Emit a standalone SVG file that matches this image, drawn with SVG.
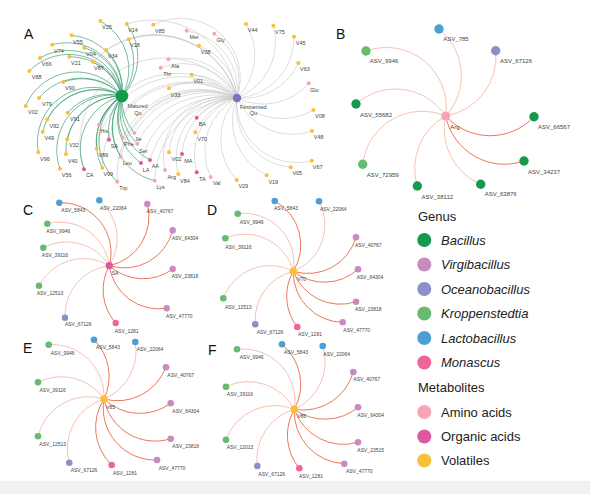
<svg xmlns="http://www.w3.org/2000/svg" width="590" height="494" viewBox="0 0 590 494">
<style>
text{font-family:"Liberation Sans",Arial,sans-serif;fill:#333}
.pl{font-size:14px;fill:#111}
.la{font-size:5.5px;text-anchor:middle;fill:#444}
.lb{font-size:6px;text-anchor:middle;fill:#444}
.lc{font-size:5px;text-anchor:middle;fill:#444}
.lg{font-size:13px;fill:#222}
.lgi{font-size:13px;fill:#222;font-style:italic}
.eg{fill:none;stroke:#3f9f73;stroke-width:0.7}
.ey{fill:none;stroke:#c6c6c6;stroke-width:0.6}
.er{fill:none;stroke:#f4a690;stroke-width:0.7}
.ed{fill:none;stroke:#ea7857;stroke-width:1}
.o{fill:#fbbf38}.p{fill:#f7a4b7}.m{fill:#dd5aa0}
.bac{fill:#17984f}.vir{fill:#c98ac0}.oce{fill:#8c90c8}.kro{fill:#67bb6e}.lac{fill:#4b9fd5}.mon{fill:#f0649a}
</style>
<rect x="0" y="0" width="590" height="494" fill="#ffffff"/>
<rect x="0" y="481" width="590" height="13" fill="#f1f1f1"/>

<g id="connectors">
<g class="ey">
<path d="M237 98A60 60 0 0 0 153.3 24.7"/>
<path d="M237 98A60 60 0 0 0 186.7 30.7"/>
<path d="M237 98A60 60 0 0 0 214.3 33.7"/>
<path d="M237 98A60 60 0 0 0 246 24"/>
<path d="M237 98A60 60 0 0 0 273.3 25.7"/>
<path d="M237 98A60 60 0 0 0 294 36.7"/>
<path d="M237 98A60 60 0 0 0 199 45.7"/>
<path d="M237 98A60 60 0 0 0 168.3 59.3"/>
<path d="M237 98A60 60 0 0 0 160.7 67.7"/>
<path d="M237 98A60 60 0 0 0 298.3 63"/>
<path d="M237 98A60 60 0 0 0 191.7 74.7"/>
<path d="M237 98A60 60 0 0 0 308.7 83.3"/>
<path d="M237 98A60 60 0 0 0 169 88.3"/>
<path d="M237 98A60 60 0 0 0 313.3 110"/>
<path d="M237 98A60 60 0 0 0 196.7 117.7"/>
<path d="M237 98A60 60 0 0 0 312 131"/>
<path d="M237 98A60 60 0 0 0 195.3 132.3"/>
<path d="M237 98A60 60 0 0 0 169 152.3"/>
<path d="M237 98A60 60 0 0 0 182 154"/>
<path d="M237 98A60 60 0 0 0 311.7 160.7"/>
<path d="M237 98A60 60 0 0 0 290.7 167.3"/>
<path d="M237 98A60 60 0 0 0 165 170"/>
<path d="M237 98A60 60 0 0 0 178.3 174"/>
<path d="M237 98A60 60 0 0 0 196.7 172.3"/>
<path d="M237 98A60 60 0 0 0 210.7 177"/>
<path d="M237 98A60 60 0 0 0 266.7 175.3"/>
<path d="M237 98A60 60 0 0 0 236.7 180"/>
<path d="M237 98A85 85 0 0 0 126.7 24"/>
<path d="M237 98A85 85 0 0 0 128.7 39.3"/>
<path d="M237 98A85 85 0 0 0 106 50"/>
<path d="M237 98A85 85 0 0 0 93 62"/>
<path d="M237 98A85 85 0 0 0 99 124.7"/>
<path d="M237 98A85 85 0 0 0 109 139.7"/>
<path d="M237 98A85 85 0 0 0 134.3 133"/>
<path d="M237 98A85 85 0 0 0 122.7 137.7"/>
<path d="M237 98A85 85 0 0 0 137.3 143.7"/>
<path d="M237 98A85 85 0 0 0 120.7 156.7"/>
<path d="M237 98A85 85 0 0 0 150 160"/>
<path d="M237 98A85 85 0 0 0 141 163"/>
<path d="M237 98A85 85 0 0 0 117.3 181.7"/>
<path d="M237 98A85 85 0 0 0 154.7 180.7"/>
<path d="M237 98A85 85 0 0 0 96.7 148.7"/>
<path d="M237 98A85 85 0 0 0 102.3 168"/>
<path d="M237 98A85 85 0 0 0 84 169.3"/>
</g>
<g class="eg">
<path d="M122 96A55 55 0 0 0 100.3 21"/>
<path d="M122 96A55 55 0 0 0 126.7 24"/>
<path d="M122 96A55 55 0 0 0 71.7 35.3"/>
<path d="M122 96A55 55 0 0 0 128.7 39.3"/>
<path d="M122 96A55 55 0 0 0 52.3 44.7"/>
<path d="M122 96A55 55 0 0 0 84.3 47.7"/>
<path d="M122 96A55 55 0 0 0 106 50"/>
<path d="M122 96A55 55 0 0 0 69.3 56.7"/>
<path d="M122 96A55 55 0 0 0 40 58"/>
<path d="M122 96A55 55 0 0 0 93 62"/>
<path d="M122 96A55 55 0 0 0 29.3 71"/>
<path d="M122 96A55 55 0 0 0 63.3 82"/>
<path d="M122 96A55 55 0 0 0 39 98"/>
<path d="M122 96A55 55 0 0 0 25.7 106"/>
<path d="M122 96A55 55 0 0 0 67.7 112.7"/>
<path d="M122 96A55 55 0 0 0 47.3 119.3"/>
<path d="M122 96A55 55 0 0 0 42.7 132"/>
<path d="M122 96A55 55 0 0 0 99 124.7"/>
<path d="M122 96A55 55 0 0 0 109 139.7"/>
<path d="M122 96A55 55 0 0 0 67.3 139.3"/>
<path d="M122 96A55 55 0 0 0 134.3 133"/>
<path d="M122 96A55 55 0 0 0 122.7 137.7"/>
<path d="M122 96A55 55 0 0 0 137.3 143.7"/>
<path d="M122 96A55 55 0 0 0 38.3 152.3"/>
<path d="M122 96A55 55 0 0 0 96.7 148.7"/>
<path d="M122 96A55 55 0 0 0 66 154"/>
<path d="M122 96A55 55 0 0 0 120.7 156.7"/>
<path d="M122 96A55 55 0 0 0 150 160"/>
<path d="M122 96A55 55 0 0 0 141 163"/>
<path d="M122 96A55 55 0 0 0 60 168.7"/>
<path d="M122 96A55 55 0 0 0 84 169.3"/>
<path d="M122 96A55 55 0 0 0 102.3 168"/>
<path d="M122 96A55 55 0 0 0 117.3 181.7"/>
<path d="M122 96A55 55 0 0 0 154.7 180.7"/>
</g>
<g class="er">
<path d="M445.7 116A60 60 0 0 0 439 29"/>
<path d="M445.7 116A60 60 0 0 0 495.7 50.7"/>
<path d="M445.7 116A60 60 0 0 0 366 51"/>
<path d="M445.7 116A60 60 0 0 0 356 104"/>
<path d="M445.7 116A60 60 0 0 0 362.7 164.3"/>
<path d="M445.7 116A60 60 0 0 0 417.3 186"/>
<path d="M445.7 116A60 60 0 0 0 480.7 184.3"/>
</g>
<g class="ed">
<path d="M445.7 116A60 60 0 0 0 534 116.7"/>
<path d="M445.7 116A60 60 0 0 0 524 161"/>
</g>
<g class="er">
<path d="M109.3 265.7A50 50 0 0 0 99.3 200.3"/>
<path d="M109.3 265.7A50 50 0 0 0 47.3 223.7"/>
<path d="M109.3 265.7A50 50 0 0 0 43.3 247.7"/>
<path d="M109.3 265.7A50 50 0 0 0 39 285.7"/>
<path d="M109.3 265.7A50 50 0 0 0 65 317.7"/>
</g>
<g class="ed">
<path d="M109.3 265.7A50 50 0 0 0 59.3 202.7"/>
<path d="M109.3 265.7A50 50 0 0 0 147.3 204"/>
<path d="M109.3 265.7A50 50 0 0 0 172.7 230.3"/>
<path d="M109.3 265.7A50 50 0 0 0 172.7 269"/>
<path d="M109.3 265.7A50 50 0 0 0 166.7 308.3"/>
<path d="M109.3 265.7A50 50 0 0 0 115.7 323"/>
</g>
<g class="er">
<path d="M293.3 271.3A50 50 0 0 0 319 201.3"/>
<path d="M293.3 271.3A50 50 0 0 0 237.7 213.7"/>
<path d="M293.3 271.3A50 50 0 0 0 225.3 238.3"/>
<path d="M293.3 271.3A50 50 0 0 0 223.3 298.3"/>
<path d="M293.3 271.3A50 50 0 0 0 255.3 324.3"/>
</g>
<g class="ed">
<path d="M293.3 271.3A50 50 0 0 0 274.7 201"/>
<path d="M293.3 271.3A50 50 0 0 0 356 237.3"/>
<path d="M293.3 271.3A50 50 0 0 0 358 269.3"/>
<path d="M293.3 271.3A50 50 0 0 0 356 301.7"/>
<path d="M293.3 271.3A50 50 0 0 0 342.7 322.3"/>
<path d="M293.3 271.3A50 50 0 0 0 297.3 327"/>
</g>
<g class="er">
<path d="M104 399A52 52 0 0 0 135.3 342"/>
<path d="M104 399A52 52 0 0 0 48.7 344.7"/>
<path d="M104 399A52 52 0 0 0 38 382.3"/>
<path d="M104 399A52 52 0 0 0 38 436.3"/>
<path d="M104 399A52 52 0 0 0 69.3 462.7"/>
</g>
<g class="ed">
<path d="M104 399A52 52 0 0 0 94 339.7"/>
<path d="M104 399A52 52 0 0 0 166 367.3"/>
<path d="M104 399A52 52 0 0 0 170.7 403.3"/>
<path d="M104 399A52 52 0 0 0 170.7 438.7"/>
<path d="M104 399A52 52 0 0 0 157 460"/>
<path d="M104 399A52 52 0 0 0 111.7 465"/>
</g>
<g class="er">
<path d="M294.3 409.3A52 52 0 0 0 322.7 346"/>
<path d="M294.3 409.3A52 52 0 0 0 237 349.3"/>
<path d="M294.3 409.3A52 52 0 0 0 226 386.7"/>
<path d="M294.3 409.3A52 52 0 0 0 226 439.7"/>
<path d="M294.3 409.3A52 52 0 0 0 257.3 466"/>
</g>
<g class="ed">
<path d="M294.3 409.3A52 52 0 0 0 282 344.3"/>
<path d="M294.3 409.3A52 52 0 0 0 353.3 372"/>
<path d="M294.3 409.3A52 52 0 0 0 358 407.3"/>
<path d="M294.3 409.3A52 52 0 0 0 358 442.3"/>
<path d="M294.3 409.3A52 52 0 0 0 344.3 463.7"/>
<path d="M294.3 409.3A52 52 0 0 0 299.3 468.3"/>
</g>
</g>

<text class="pl" x="24" y="38.5">A</text>
<text class="pl" x="336" y="38.5">B</text>
<text class="pl" x="23" y="214.5">C</text>
<text class="pl" x="207" y="215">D</text>
<text class="pl" x="23" y="352.5">E</text>
<text class="pl" x="208" y="355">F</text>

<g id="panelA">
<g id="a-hub1"><circle cx="122" cy="96" r="6.3" class="bac"/><text class="la" x="137.5" y="107.5">Matured</text><text class="la" x="138" y="114.5">Qu</text></g>
<g id="a-hub2"><circle cx="237" cy="98" r="4.2" fill="#7b72c0"/><text class="la" x="253.3" y="108.5">Fermented</text><text class="la" x="253.3" y="114.7">Qu</text></g>
<g id="a-V25"><circle cx="100.3" cy="21" r="2" class="o"/><text class="la" x="107" y="29">V25</text></g>
<g id="a-V14"><circle cx="126.7" cy="24" r="2" class="o"/><text class="la" x="133" y="32">V14</text></g>
<g id="a-V85"><circle cx="153.3" cy="24.7" r="2" class="o"/><text class="la" x="160" y="33">V85</text></g>
<g id="a-V55"><circle cx="71.7" cy="35.3" r="2" class="o"/><text class="la" x="78" y="44">V55</text></g>
<g id="a-V18"><circle cx="128.7" cy="39.3" r="2" class="o"/><text class="la" x="135" y="47">V18</text></g>
<g id="a-V74"><circle cx="52.3" cy="44.7" r="2" class="o"/><text class="la" x="59" y="53">V74</text></g>
<g id="a-V04"><circle cx="84.3" cy="47.7" r="2" class="o"/><text class="la" x="91" y="56">V04</text></g>
<g id="a-V34"><circle cx="106" cy="50" r="2" class="o"/><text class="la" x="112.7" y="58">V34</text></g>
<g id="a-V21"><circle cx="69.3" cy="56.7" r="2" class="o"/><text class="la" x="76" y="64.7">V21</text></g>
<g id="a-V66"><circle cx="40" cy="58" r="2" class="o"/><text class="la" x="46.7" y="66">V66</text></g>
<g id="a-V87"><circle cx="93" cy="62" r="2" class="o"/><text class="la" x="99" y="70">V87</text></g>
<g id="a-V88"><circle cx="29.3" cy="71" r="2" class="o"/><text class="la" x="36.7" y="79">V88</text></g>
<g id="a-V90"><circle cx="63.3" cy="82" r="2" class="o"/><text class="la" x="70" y="90">V90</text></g>
<g id="a-V79"><circle cx="39" cy="98" r="2" class="o"/><text class="la" x="47" y="106">V79</text></g>
<g id="a-V02"><circle cx="25.7" cy="106" r="2" class="o"/><text class="la" x="33" y="114">V02</text></g>
<g id="a-V91"><circle cx="67.7" cy="112.7" r="2" class="o"/><text class="la" x="75" y="121">V91</text></g>
<g id="a-V92"><circle cx="47.3" cy="119.3" r="2" class="o"/><text class="la" x="54.3" y="127.7">V92</text></g>
<g id="a-V49"><circle cx="42.7" cy="132" r="2" class="o"/><text class="la" x="49.3" y="140.3">V49</text></g>
<g id="a-His"><circle cx="99" cy="124.7" r="2" class="p"/><text class="la" x="104.3" y="133">His</text></g>
<g id="a-SA"><circle cx="109" cy="139.7" r="2" class="m"/><text class="la" x="114.3" y="147.7">SA</text></g>
<g id="a-V32"><circle cx="67.3" cy="139.3" r="2" class="o"/><text class="la" x="74" y="147.3">V32</text></g>
<g id="a-Ile"><circle cx="134.3" cy="133" r="2" class="p"/><text class="la" x="138.7" y="141.3">Ile</text></g>
<g id="a-Phe"><circle cx="122.7" cy="137.7" r="2" class="p"/><text class="la" x="129" y="145.7">Phe</text></g>
<g id="a-Ser"><circle cx="137.3" cy="143.7" r="2" class="p"/><text class="la" x="143.3" y="152.7">Ser</text></g>
<g id="a-V96"><circle cx="38.3" cy="152.3" r="2" class="o"/><text class="la" x="45" y="161">V96</text></g>
<g id="a-V89"><circle cx="96.7" cy="148.7" r="2" class="o"/><text class="la" x="103.3" y="157">V89</text></g>
<g id="a-V40"><circle cx="66" cy="154" r="2" class="o"/><text class="la" x="72.7" y="163">V40</text></g>
<g id="a-Leu"><circle cx="120.7" cy="156.7" r="2" class="p"/><text class="la" x="127.3" y="164.7">Leu</text></g>
<g id="a-AA"><circle cx="150" cy="160" r="2" class="m"/><text class="la" x="155.3" y="168.3">AA</text></g>
<g id="a-LA"><circle cx="141" cy="163" r="2" class="m"/><text class="la" x="146" y="171.7">LA</text></g>
<g id="a-V56"><circle cx="60" cy="168.7" r="2" class="o"/><text class="la" x="66.7" y="177">V56</text></g>
<g id="a-CA"><circle cx="84" cy="169.3" r="2" class="m"/><text class="la" x="89.7" y="177.3">CA</text></g>
<g id="a-V99"><circle cx="102.3" cy="168" r="2" class="o"/><text class="la" x="108.3" y="176">V99</text></g>
<g id="a-Trp"><circle cx="117.3" cy="181.7" r="2" class="p"/><text class="la" x="123.3" y="190.3">Trp</text></g>
<g id="a-Lys"><circle cx="154.7" cy="180.7" r="2" class="p"/><text class="la" x="160.7" y="189.3">Lys</text></g>
<g id="a-Met"><circle cx="186.7" cy="30.7" r="2" class="p"/><text class="la" x="194" y="38.7">Met</text></g>
<g id="a-Gly"><circle cx="214.3" cy="33.7" r="2" class="p"/><text class="la" x="220.7" y="42">Gly</text></g>
<g id="a-V44"><circle cx="246" cy="24" r="2" class="o"/><text class="la" x="252.7" y="32">V44</text></g>
<g id="a-V75"><circle cx="273.3" cy="25.7" r="2" class="o"/><text class="la" x="280" y="34">V75</text></g>
<g id="a-V45"><circle cx="294" cy="36.7" r="2" class="o"/><text class="la" x="300.7" y="45.3">V45</text></g>
<g id="a-V38"><circle cx="199" cy="45.7" r="2" class="o"/><text class="la" x="205.7" y="54.3">V38</text></g>
<g id="a-Ala"><circle cx="168.3" cy="59.3" r="2" class="p"/><text class="la" x="175" y="68">Ala</text></g>
<g id="a-Thr"><circle cx="160.7" cy="67.7" r="2" class="p"/><text class="la" x="167.3" y="75.7">Thr</text></g>
<g id="a-V63"><circle cx="298.3" cy="63" r="2" class="o"/><text class="la" x="305" y="71.3">V63</text></g>
<g id="a-V01"><circle cx="191.7" cy="74.7" r="2" class="o"/><text class="la" x="198.3" y="83.3">V01</text></g>
<g id="a-Glu"><circle cx="308.7" cy="83.3" r="2" class="p"/><text class="la" x="314.3" y="92">Glu</text></g>
<g id="a-V33"><circle cx="169" cy="88.3" r="2" class="o"/><text class="la" x="175.5" y="96.5">V33</text></g>
<g id="a-V08"><circle cx="313.3" cy="110" r="2" class="o"/><text class="la" x="320" y="118">V08</text></g>
<g id="a-BA"><circle cx="196.7" cy="117.7" r="2" class="m"/><text class="la" x="202.3" y="126.3">BA</text></g>
<g id="a-V48"><circle cx="312" cy="131" r="2" class="o"/><text class="la" x="318.7" y="139.3">V48</text></g>
<g id="a-V70"><circle cx="195.3" cy="132.3" r="2" class="o"/><text class="la" x="202.3" y="140.7">V70</text></g>
<g id="a-V02b"><circle cx="169" cy="152.3" r="2" class="o"/><text class="la" x="176.5" y="161.3">V02</text></g>
<g id="a-MA"><circle cx="182" cy="154" r="2" class="m"/><text class="la" x="188.3" y="162.7">MA</text></g>
<g id="a-V67"><circle cx="311.7" cy="160.7" r="2" class="o"/><text class="la" x="317.7" y="168.7">V67</text></g>
<g id="a-V05"><circle cx="290.7" cy="167.3" r="2" class="o"/><text class="la" x="297.3" y="175.3">V05</text></g>
<g id="a-Arg"><circle cx="165" cy="170" r="2" class="p"/><text class="la" x="171.7" y="179">Arg</text></g>
<g id="a-V84"><circle cx="178.3" cy="174" r="2" class="o"/><text class="la" x="185" y="182.7">V84</text></g>
<g id="a-TA"><circle cx="196.7" cy="172.3" r="2" class="m"/><text class="la" x="202.3" y="181">TA</text></g>
<g id="a-Val"><circle cx="210.7" cy="177" r="2" class="p"/><text class="la" x="216.7" y="185">Val</text></g>
<g id="a-V19"><circle cx="266.7" cy="175.3" r="2" class="o"/><text class="la" x="273.3" y="183.7">V19</text></g>
<g id="a-V29"><circle cx="236.7" cy="180" r="2" class="o"/><text class="la" x="243.3" y="188.3">V29</text></g>
</g>

<g id="panelB">
<g id="b-Arg"><circle cx="445.7" cy="116" r="4.5" class="p"/><text class="lb" x="455" y="128.8">Arg</text></g>
<g id="b-785"><circle cx="439" cy="29" r="4.7" class="lac"/><text class="lb" x="456" y="41">ASV_785</text></g>
<g id="b-67126"><circle cx="495.7" cy="50.7" r="4.7" class="oce"/><text class="lb" x="516" y="62.8">ASV_67126</text></g>
<g id="b-9946"><circle cx="366" cy="51" r="4.7" class="kro"/><text class="lb" x="384" y="63.4">ASV_9946</text></g>
<g id="b-55682"><circle cx="356" cy="104" r="4.7" class="bac"/><text class="lb" x="376" y="116.8">ASV_55682</text></g>
<g id="b-66567"><circle cx="534" cy="116.7" r="4.7" class="bac"/><text class="lb" x="554" y="128.8">ASV_66567</text></g>
<g id="b-72959"><circle cx="362.7" cy="164.3" r="4.7" class="kro"/><text class="lb" x="382.7" y="177">ASV_72959</text></g>
<g id="b-34237"><circle cx="524" cy="161" r="4.7" class="bac"/><text class="lb" x="544" y="173.8">ASV_34237</text></g>
<g id="b-38112"><circle cx="417.3" cy="186" r="4.7" class="bac"/><text class="lb" x="437.3" y="198.8">ASV_38112</text></g>
<g id="b-63876"><circle cx="480.7" cy="184.3" r="4.7" class="bac"/><text class="lb" x="500.7" y="196.4">ASV_63876</text></g>
</g>

<g id="panelC">
<g id="c-SA"><circle cx="109.3" cy="265.7" r="3.6" class="m"/><text class="lc" x="115" y="275">SA</text></g>
<g id="c-5843"><circle cx="59.3" cy="202.7" r="3.2" class="lac"/><text class="lc" x="73.3" y="211.8">ASV_5843</text></g>
<g id="c-22064"><circle cx="99.3" cy="200.3" r="3.2" class="lac"/><text class="lc" x="113.3" y="209.5">ASV_22064</text></g>
<g id="c-40767"><circle cx="147.3" cy="204" r="3.2" class="vir"/><text class="lc" x="160" y="212.8">ASV_40767</text></g>
<g id="c-9946"><circle cx="47.3" cy="223.7" r="3.2" class="kro"/><text class="lc" x="58.3" y="232.5">ASV_9946</text></g>
<g id="c-64304"><circle cx="172.7" cy="230.3" r="3.2" class="vir"/><text class="lc" x="185" y="240">ASV_64304</text></g>
<g id="c-39116"><circle cx="43.3" cy="247.7" r="3.2" class="kro"/><text class="lc" x="55" y="257">ASV_39116</text></g>
<g id="c-23818"><circle cx="172.7" cy="269" r="3.2" class="vir"/><text class="lc" x="185" y="278">ASV_23818</text></g>
<g id="c-12513"><circle cx="39" cy="285.7" r="3.2" class="kro"/><text class="lc" x="50" y="295">ASV_12513</text></g>
<g id="c-47770"><circle cx="166.7" cy="308.3" r="3.2" class="vir"/><text class="lc" x="179.3" y="317.5">ASV_47770</text></g>
<g id="c-67126"><circle cx="65" cy="317.7" r="3.2" class="oce"/><text class="lc" x="78.3" y="326">ASV_67126</text></g>
<g id="c-1281"><circle cx="115.7" cy="323" r="3.2" class="mon"/><text class="lc" x="126.7" y="332.8">ASV_1281</text></g>
</g>

<g id="panelD">
<g id="d-V70"><circle cx="293.3" cy="271.3" r="3.8" class="o"/><text class="lc" x="301.7" y="281">V70</text></g>
<g id="d-5843"><circle cx="274.7" cy="201" r="3.3" class="lac"/><text class="lc" x="286" y="210">ASV_5843</text></g>
<g id="d-22064"><circle cx="319" cy="201.3" r="3.3" class="lac"/><text class="lc" x="333.3" y="210.8">ASV_22064</text></g>
<g id="d-9946"><circle cx="237.7" cy="213.7" r="3.3" class="kro"/><text class="lc" x="251.7" y="223.5">ASV_9946</text></g>
<g id="d-39116"><circle cx="225.3" cy="238.3" r="3.3" class="kro"/><text class="lc" x="238.3" y="248.5">ASV_39116</text></g>
<g id="d-40767"><circle cx="356" cy="237.3" r="3.3" class="vir"/><text class="lc" x="368.3" y="246.8">ASV_40767</text></g>
<g id="d-64304"><circle cx="358" cy="269.3" r="3.3" class="vir"/><text class="lc" x="370" y="278.8">ASV_64304</text></g>
<g id="d-12513"><circle cx="223.3" cy="298.3" r="3.3" class="kro"/><text class="lc" x="238.3" y="308.5">ASV_12513</text></g>
<g id="d-23818"><circle cx="356" cy="301.7" r="3.3" class="vir"/><text class="lc" x="368.3" y="311">ASV_23818</text></g>
<g id="d-67126"><circle cx="255.3" cy="324.3" r="3.3" class="oce"/><text class="lc" x="270" y="334">ASV_67126</text></g>
<g id="d-1281"><circle cx="297.3" cy="327" r="3.3" class="mon"/><text class="lc" x="310" y="336">ASV_1281</text></g>
<g id="d-47770"><circle cx="342.7" cy="322.3" r="3.3" class="vir"/><text class="lc" x="356.7" y="331.8">ASV_47770</text></g>
</g>

<g id="panelE">
<g id="e-V85"><circle cx="104" cy="399" r="3.8" class="o"/><text class="lc" x="110.7" y="408.5">V85</text></g>
<g id="e-9946"><circle cx="48.7" cy="344.7" r="3.3" class="kro"/><text class="lc" x="62.7" y="354.5">ASV_9946</text></g>
<g id="e-5843"><circle cx="94" cy="339.7" r="3.3" class="lac"/><text class="lc" x="108" y="349">ASV_5843</text></g>
<g id="e-22064"><circle cx="135.3" cy="342" r="3.3" class="lac"/><text class="lc" x="150" y="351">ASV_22064</text></g>
<g id="e-40767"><circle cx="166" cy="367.3" r="3.3" class="vir"/><text class="lc" x="180.7" y="376.8">ASV_40767</text></g>
<g id="e-39116"><circle cx="38" cy="382.3" r="3.3" class="kro"/><text class="lc" x="52.7" y="391.8">ASV_39116</text></g>
<g id="e-64304"><circle cx="170.7" cy="403.3" r="3.3" class="vir"/><text class="lc" x="185.7" y="412.5">ASV_64304</text></g>
<g id="e-12513"><circle cx="38" cy="436.3" r="3.3" class="kro"/><text class="lc" x="52.7" y="445.8">ASV_12513</text></g>
<g id="e-23818"><circle cx="170.7" cy="438.7" r="3.3" class="vir"/><text class="lc" x="185.7" y="448">ASV_23818</text></g>
<g id="e-67126"><circle cx="69.3" cy="462.7" r="3.3" class="oce"/><text class="lc" x="84" y="472">ASV_67126</text></g>
<g id="e-1281"><circle cx="111.7" cy="465" r="3.3" class="mon"/><text class="lc" x="125" y="474.5">ASV_1281</text></g>
<g id="e-47770"><circle cx="157" cy="460" r="3.3" class="vir"/><text class="lc" x="172" y="469.5">ASV_47770</text></g>
</g>

<g id="panelF">
<g id="f-V86"><circle cx="294.3" cy="409.3" r="3.8" class="o"/><text class="lc" x="301.7" y="418">V86</text></g>
<g id="f-9946"><circle cx="237" cy="349.3" r="3.3" class="kro"/><text class="lc" x="251.7" y="358.5">ASV_9946</text></g>
<g id="f-5843"><circle cx="282" cy="344.3" r="3.3" class="lac"/><text class="lc" x="296" y="353.8">ASV_5843</text></g>
<g id="f-22064"><circle cx="322.7" cy="346" r="3.3" class="lac"/><text class="lc" x="336.7" y="355.5">ASV_22064</text></g>
<g id="f-40767"><circle cx="353.3" cy="372" r="3.3" class="vir"/><text class="lc" x="366.7" y="381">ASV_40767</text></g>
<g id="f-39116"><circle cx="226" cy="386.7" r="3.3" class="kro"/><text class="lc" x="240" y="395.8">ASV_39116</text></g>
<g id="f-64304"><circle cx="358" cy="407.3" r="3.3" class="vir"/><text class="lc" x="370.7" y="416.8">ASV_64304</text></g>
<g id="f-12013"><circle cx="226" cy="439.7" r="3.3" class="kro"/><text class="lc" x="240" y="449">ASV_12013</text></g>
<g id="f-23515"><circle cx="358" cy="442.3" r="3.3" class="vir"/><text class="lc" x="370.7" y="451.8">ASV_23515</text></g>
<g id="f-67126"><circle cx="257.3" cy="466" r="3.3" class="oce"/><text class="lc" x="271.7" y="475.8">ASV_67126</text></g>
<g id="f-1281"><circle cx="299.3" cy="468.3" r="3.3" class="mon"/><text class="lc" x="311" y="477.8">ASV_1281</text></g>
<g id="f-47770"><circle cx="344.3" cy="463.7" r="3.3" class="vir"/><text class="lc" x="359.3" y="473">ASV_47770</text></g>
</g>

<g id="legend">
<text class="lg" x="418" y="220.5">Genus</text>
<circle cx="424.3" cy="240" r="7" class="bac"/><text class="lgi" x="441" y="244.5">Bacillus</text>
<circle cx="424.3" cy="264.5" r="7" class="vir"/><text class="lgi" x="441" y="269">Virgibacillus</text>
<circle cx="424.3" cy="289" r="7" class="oce"/><text class="lgi" x="441" y="293.5">Oceanobacillus</text>
<circle cx="424.3" cy="313.5" r="7" class="kro"/><text class="lgi" x="441" y="318">Kroppenstedtia</text>
<circle cx="424.3" cy="338" r="7" class="lac"/><text class="lgi" x="441" y="342.5">Lactobacillus</text>
<circle cx="424.3" cy="362.5" r="7" class="mon"/><text class="lgi" x="441" y="367">Monascus</text>
<text class="lg" x="418" y="392">Metabolites</text>
<circle cx="424.3" cy="412" r="7" class="p"/><text class="lg" x="441" y="416.5">Amino acids</text>
<circle cx="424.3" cy="436.5" r="7" class="m"/><text class="lg" x="441" y="441">Organic acids</text>
<circle cx="424.3" cy="460.5" r="7" class="o"/><text class="lg" x="441" y="465">Volatiles</text>
</g>
</svg>
